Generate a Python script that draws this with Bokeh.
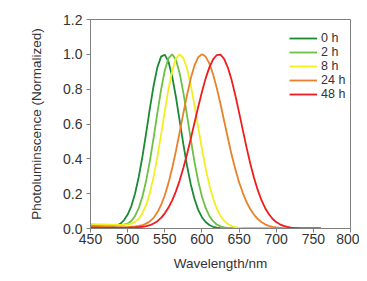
from bokeh.plotting import figure
from bokeh.models import Legend, LegendItem, FixedTicker, NumeralTickFormatter, Range1d
from bokeh.embed import file_html
from bokeh.resources import INLINE

wavelength = list(range(450, 765, 5))

pl_0h = [0.016, 0.016, 0.015, 0.015, 0.015, 0.015, 0.015, 0.017, 0.027, 0.047,
         0.080, 0.129, 0.201, 0.297, 0.415, 0.550, 0.691, 0.821, 0.925, 0.987,
         0.998, 0.957, 0.872, 0.755, 0.620, 0.484, 0.359, 0.253, 0.169, 0.107,
         0.065, 0.037, 0.020, 0.010, 0.005, 0.002, 0.001] + [0.0] * 26

pl_2h = [0.020, 0.020, 0.019, 0.019, 0.018, 0.018, 0.018, 0.018, 0.019, 0.022,
         0.028, 0.043, 0.072, 0.117, 0.185, 0.276, 0.390, 0.522, 0.663, 0.797,
         0.907, 0.978, 1.000, 0.969, 0.892, 0.780, 0.648, 0.511, 0.382, 0.272,
         0.184, 0.118, 0.072, 0.042, 0.023, 0.012, 0.006, 0.003, 0.001] + [0.0] * 24

pl_8h = [0.026, 0.025, 0.024, 0.024, 0.023, 0.022, 0.022, 0.021, 0.021, 0.022,
         0.024, 0.028, 0.038, 0.056, 0.089, 0.135, 0.206, 0.298, 0.411, 0.539,
         0.674, 0.801, 0.906, 0.976, 1.000, 0.979, 0.917, 0.823, 0.707, 0.581,
         0.458, 0.345, 0.249, 0.172, 0.114, 0.072, 0.044, 0.026, 0.014, 0.008,
         0.004, 0.002, 0.001] + [0.0] * 20

pl_24h = [0.010, 0.010, 0.010, 0.009, 0.009, 0.009, 0.008, 0.008, 0.008, 0.008,
          0.008, 0.010, 0.012, 0.015, 0.020, 0.028, 0.042, 0.061, 0.093, 0.135,
          0.191, 0.262, 0.347, 0.445, 0.552, 0.662, 0.768, 0.862, 0.936, 0.984,
          1.000, 0.987, 0.948, 0.886, 0.806, 0.715, 0.616, 0.518, 0.423, 0.340,
          0.266, 0.205, 0.152, 0.112, 0.080, 0.055, 0.037, 0.024, 0.015, 0.009,
          0.006, 0.004, 0.002, 0.001] + [0.0] * 9

pl_48h = [0.005, 0.005, 0.005, 0.004, 0.004, 0.004, 0.004, 0.004, 0.004, 0.004,
          0.004, 0.005, 0.006, 0.008, 0.010, 0.014, 0.019, 0.029, 0.042, 0.061,
          0.087, 0.120, 0.162, 0.213, 0.275, 0.347, 0.428, 0.515, 0.607, 0.698,
          0.784, 0.862, 0.925, 0.971, 0.996, 0.998, 0.973, 0.923, 0.852, 0.764,
          0.667, 0.566, 0.467, 0.375, 0.293, 0.223, 0.164, 0.118, 0.083, 0.056,
          0.037, 0.024, 0.015, 0.009, 0.005, 0.003, 0.002, 0.001] + [0.0] * 5

series_labels = ["0 h", "2 h", "8 h", "24 h", "48 h"]
series_values = [pl_0h, pl_2h, pl_8h, pl_24h, pl_48h]
series_colors = ["#1b8a35", "#6cc043", "#f2ee1f", "#e8822a", "#f01c1c"]

x_ticks = [450, 500, 550, 600, 650, 700, 750, 800]
y_ticks = [0.0, 0.2, 0.4, 0.6, 0.8, 1.0, 1.2]

FONT = "Liberation Sans"
TXT = "#333333"
AX = "#808080"

p = figure(width=359, height=273, output_backend="svg", toolbar_location=None,
           x_range=Range1d(450, 800), y_range=Range1d(0, 1.2),
           min_border_left=90, min_border_right=9, min_border_top=19,
           min_border_bottom=44)
p.background_fill_color = "white"
p.border_fill_color = "white"
p.outline_line_color = AX
p.outline_line_width = 1
p.xgrid.visible = False
p.ygrid.visible = False

renderers = []
for lab, vals, col in zip(series_labels, series_values, series_colors):
    r = p.line(wavelength, vals, line_color=col, line_width=1.8)
    renderers.append((lab, r))

for ax in (p.xaxis[0], p.yaxis[0]):
    ax.axis_line_color = AX
    ax.major_tick_line_color = AX
    ax.minor_tick_line_color = None
    ax.major_tick_in = 0
    ax.major_tick_out = 4
    ax.major_label_text_font = FONT
    ax.major_label_text_font_size = "14px"
    ax.major_label_text_color = TXT
    ax.axis_label_text_font = FONT
    ax.axis_label_text_font_size = "13.5px"
    ax.axis_label_text_font_style = "normal"
    ax.axis_label_text_color = TXT

p.xaxis[0].ticker = FixedTicker(ticks=x_ticks)
p.yaxis[0].ticker = FixedTicker(ticks=y_ticks)
p.yaxis[0].formatter = NumeralTickFormatter(format="0.0")
p.xaxis[0].axis_label = "Wavelength/nm"
p.yaxis[0].axis_label = "Photoluminscence (Normalized)"
p.xaxis[0].major_label_standoff = 1
p.xaxis[0].axis_label_standoff = 9
p.yaxis[0].major_label_standoff = 4
p.yaxis[0].axis_label_standoff = 16

legend = Legend(items=[LegendItem(label=l, renderers=[r]) for l, r in renderers],
                location=(199, 127), border_line_color=None,
                background_fill_alpha=0, padding=0, margin=0, spacing=0,
                glyph_width=28, glyph_height=14, label_height=14,
                label_standoff=4, label_text_font=FONT,
                label_text_font_size="12.5px", label_text_color=TXT)
p.add_layout(legend)

open("out.html", "w").write(file_html(p, INLINE))
